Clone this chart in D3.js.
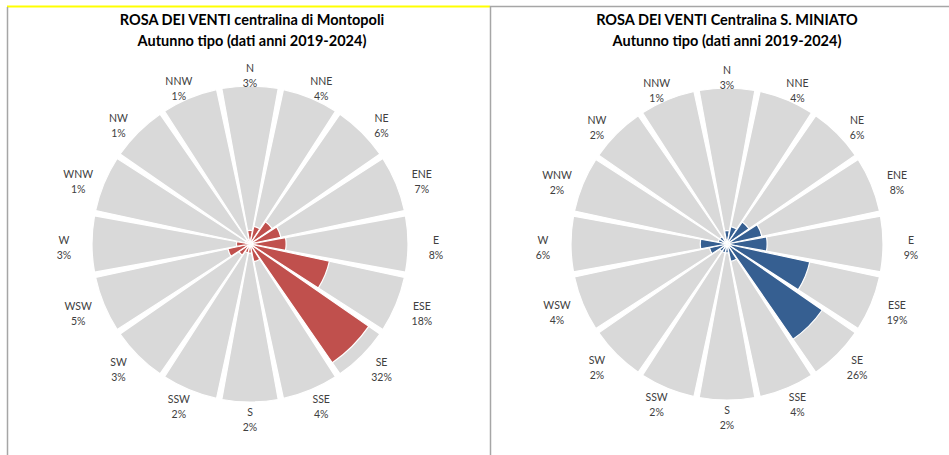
<!DOCTYPE html>
<html>
<head>
<meta charset="utf-8">
<script src="https://cdn.jsdelivr.net/npm/d3@7"></script>
<style>
  body { margin: 0; background: #fff; }
  svg { display: block; }
  .title { font-family: Lato, "Noto Sans", sans-serif; font-weight: bold; font-size: 14.5px; fill: #000; }
  .lbl { font-family: Lato, "Noto Sans", sans-serif; font-size: 10.5px; fill: #404040; }
</style>
</head>
<body>
<script>
// wind directions, clockwise from north
var directions = ["N","NNE","NE","ENE","E","ESE","SE","SSE","S","SSW","SW","WSW","W","WNW","NW","NNW"];

// percent of hours per direction
var montopoliValues = [3, 4, 6, 7, 8, 18, 32, 4, 2, 2, 3, 5, 3, 1, 1, 1];
var sanMiniatoValues = [3, 4, 6, 8, 9, 19, 26, 4, 2, 2, 2, 4, 6, 2, 2, 1];

var titlesLeft = ["ROSA  DEI VENTI centralina di Montopoli", "Autunno tipo (dati anni 2019-2024)"];
var titlesRight = ["ROSA DEI VENTI Centralina S. MINIATO", "Autunno tipo (dati anni 2019-2024)"];

var width = 949, height = 455;

var svg = d3.select("body").append("svg")
  .attr("width", width)
  .attr("height", height);

// frame lines
svg.append("line")
  .attr("x1", 7).attr("x2", 490).attr("y1", 6.5).attr("y2", 6.5)
  .style("stroke", "#ffff00").style("stroke-width", 2);
svg.append("line")
  .attr("x1", 490).attr("x2", width).attr("y1", 6.5).attr("y2", 6.5)
  .style("stroke", "#a6a6a6").style("stroke-width", 1.5);
svg.append("line")
  .attr("x1", 7.5).attr("x2", 7.5).attr("y1", 7).attr("y2", height)
  .style("stroke", "#a6a6a6").style("stroke-width", 1.5);
svg.append("line")
  .attr("x1", 490.5).attr("x2", 490.5).attr("y1", 6).attr("y2", height)
  .style("stroke", "#a6a6a6").style("stroke-width", 1.5);

function drawRose(cx, cy, R, values, color, titles, titleX) {
  var g = svg.append("g").attr("transform", "translate(" + cx + "," + cy + ")");

  // radial scale (linear, full circle = 35%)
  var r = d3.scaleLinear().domain([0, 35]).range([0, R]);

  var step = 2 * Math.PI / directions.length;
  var pad = 0.017;

  var arc = d3.arc()
    .innerRadius(0)
    .startAngle(function(d, i) { return i * step - step / 2 + pad; })
    .endAngle(function(d, i) { return i * step + step / 2 - pad; });

  // grey background sectors
  g.selectAll("path.bg").data(values)
    .enter().append("path")
    .attr("class", "bg")
    .attr("d", function(d, i) { return arc.outerRadius(r(35))(d, i); })
    .style("fill", "#d9d9d9")
    .style("stroke", "#fff")
    .style("stroke-width", 1.2);

  // value sectors
  g.selectAll("path.val").data(values)
    .enter().append("path")
    .attr("class", "val")
    .attr("d", function(d, i) { return arc.outerRadius(r(d))(d, i); })
    .style("fill", color)
    .style("stroke", "#fff")
    .style("stroke-width", 1.2);

  // labels around the rose
  var rx = R + 28, ry = R + 14;
  var lbl = g.selectAll("text.lbl").data(values)
    .enter().append("text")
    .attr("class", "lbl")
    .attr("text-anchor", "middle")
    .attr("transform", function(d, i) {
      var a = i * step;
      return "translate(" + (rx * Math.sin(a)) + "," + (3 - ry * Math.cos(a)) + ")";
    });
  lbl.append("tspan")
    .attr("x", 0).attr("y", -3)
    .text(function(d, i) { return directions[i]; });
  lbl.append("tspan")
    .attr("x", 0).attr("y", 12)
    .text(function(d) { return d + "%"; });

  // title
  svg.append("text").attr("class", "title")
    .attr("x", titleX).attr("y", 25)
    .attr("text-anchor", "middle")
    .text(titles[0]);
  svg.append("text").attr("class", "title")
    .attr("x", titleX).attr("y", 46)
    .attr("text-anchor", "middle")
    .text(titles[1]);
}

drawRose(250, 244, 158, montopoliValues, "#c0504d", titlesLeft, 252);
drawRose(727, 244, 156, sanMiniatoValues, "#365f91", titlesRight, 727);
</script>
</body>
</html>
